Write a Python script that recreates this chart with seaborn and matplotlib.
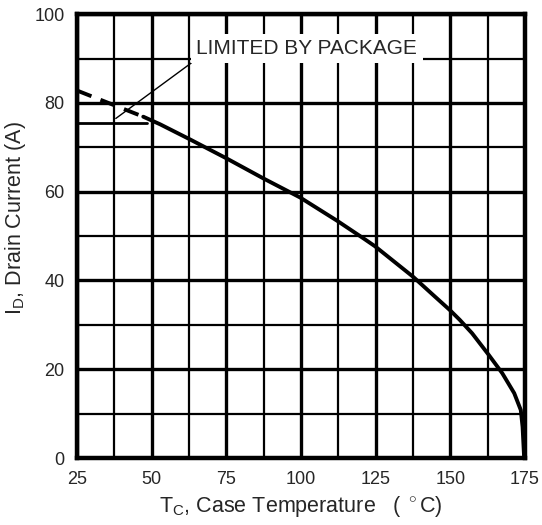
import numpy as np
import pandas as pd
import matplotlib
matplotlib.use("Agg")
import matplotlib.pyplot as plt
import seaborn as sns

# silicon limited drain current vs case temperature
tc_solid = [47.2, 52.8, 62.8, 75.1, 87.4, 99.7, 112.0, 120.9, 124.8, 137.6, 144.3,
            149.9, 153.2, 157.3, 162.9, 167.4, 171.4, 173.6, 174.2, 174.7]
id_solid = [76.9, 75.2, 71.8, 67.5, 63.0, 58.7, 53.5, 49.5, 47.7, 40.8, 36.7,
            33.3, 31.1, 28.1, 23.2, 19.1, 14.6, 10.8, 7.0, 0.3]
# dashed part above the package limit
tc_dash = [25, 47.2]
id_dash = [82.8, 76.9]
# package limit
tc_pkg = [25, 48.5]
id_pkg = [75.5, 75.5]

x_ticks = [25, 50, 75, 100, 125, 150, 175]
y_ticks = [0, 20, 40, 60, 80, 100]

sns.set_style("white")
plt.rcParams['font.family'] = ['Liberation Sans', 'DejaVu Sans']
plt.rcParams['mathtext.fontset'] = 'custom'
plt.rcParams['mathtext.rm'] = 'Liberation Sans'
plt.rcParams['mathtext.it'] = 'Liberation Sans'

fig, ax = plt.subplots(figsize=(5.42, 5.25), dpi=100)
fig.subplots_adjust(left=0.142, right=0.9686, top=0.973, bottom=0.1276)

df = pd.DataFrame({'tc': tc_solid, 'id': id_solid})
sns.lineplot(data=df, x='tc', y='id', ax=ax, color='black', linewidth=2.8,
             sort=False, estimator=None, zorder=4)
ax.plot(tc_dash, id_dash, color='black', linewidth=2.8, linestyle=(0, (4, 2.5)), zorder=4)
ax.plot(tc_pkg, id_pkg, color='black', linewidth=2.0, zorder=4)

ax.set_xlim(25, 175)
ax.set_ylim(0, 100)
ax.set_xticks(x_ticks)
ax.set_yticks(y_ticks)
ax.set_xticks(np.arange(37.5, 175, 25), minor=True)
ax.set_yticks(np.arange(10, 100, 20), minor=True)
ax.grid(which='major', color='black', linewidth=2.4)
ax.grid(which='minor', color='black', linewidth=1.6)
ax.set_axisbelow(True)
ax.tick_params(which='both', length=0, labelsize=13, pad=9)
for s in ax.spines.values():
    s.set_linewidth(3.2)
    s.set_color('black')

ax.set_xlabel(r'T$_\mathrm{C}$, Case Temperature   ( $^\circ$C)', fontsize=15.5, labelpad=5)
ax.set_ylabel(r'I$_\mathrm{D}$, Drain Current (A)', fontsize=15.5)
ax.yaxis.set_label_coords(-0.11, 0.54)

ax.annotate('LIMITED BY PACKAGE', xy=(38, 76.5), xytext=(65, 92.3),
            fontsize=15, ha='left', va='center', zorder=5,
            bbox=dict(boxstyle='square,pad=0.25', facecolor='white', edgecolor='none'),
            arrowprops=dict(arrowstyle='-', color='black', linewidth=1.0,
                            shrinkA=0, shrinkB=0, relpos=(0.02, 0.1)))

fig.savefig('out.png', dpi=100)
